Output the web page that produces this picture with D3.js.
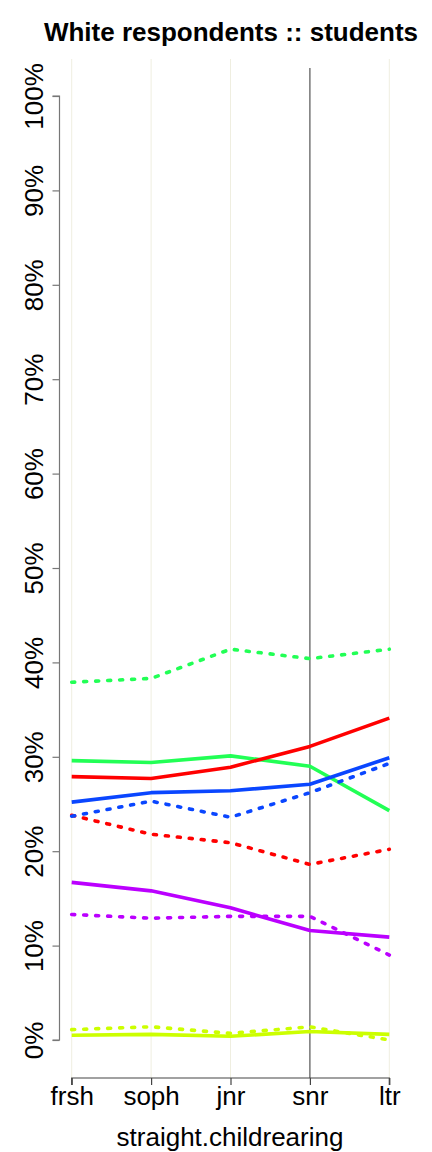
<!DOCTYPE html>
<html>
<head>
<meta charset="utf-8">
<script src="https://cdn.jsdelivr.net/npm/d3@7"></script>
<style>
  html, body { margin: 0; padding: 0; background: #fff; }
  svg { display: block; font-family: "Liberation Sans", Arial, Helvetica, sans-serif; }
</style>
</head>
<body>
<svg id="chart" width="432" height="1152"></svg>
<script>
// ---- data ----
const categories = ["frsh", "soph", "jnr", "snr", "ltr"];
const yTicks = [0, 10, 20, 30, 40, 50, 60, 70, 80, 90, 100];

const greenDashed  = [37.9, 38.3, 41.4, 40.4, 41.4];
const greenSolid   = [29.6, 29.4, 30.1, 29.0, 24.3];
const redSolid     = [27.9, 27.7, 28.9, 31.1, 34.1];
const blueSolid    = [25.2, 26.2, 26.4, 27.1, 29.9];
const blueDashed   = [23.7, 25.3, 23.6, 26.2, 29.3];
const redDashed    = [23.8, 21.8, 20.9, 18.6, 20.2];
const purpleSolid  = [16.7, 15.8, 14.0, 11.6, 10.9];
const purpleDashed = [13.3, 12.9, 13.1, 13.1, 9.0];
const yellowSolid  = [0.5, 0.6, 0.4, 0.9, 0.6];
const yellowDashed = [1.1, 1.4, 0.7, 1.4, 0.0];

const seriesList = [
  { values: greenDashed,  color: "#22ff55", dashed: true },
  { values: greenSolid,   color: "#22ff55", dashed: false },
  { values: redDashed,    color: "#ff0000", dashed: true },
  { values: redSolid,     color: "#ff0000", dashed: false },
  { values: blueDashed,   color: "#0a46ff", dashed: true },
  { values: blueSolid,    color: "#0a46ff", dashed: false },
  { values: purpleDashed, color: "#bb00ff", dashed: true },
  { values: purpleSolid,  color: "#bb00ff", dashed: false },
  { values: yellowDashed, color: "#ccff00", dashed: true },
  { values: yellowSolid,  color: "#ccff00", dashed: false }
];

// ---- layout ----
const svg = d3.select("#chart");
const x = d3.scalePoint().domain(categories).range([71.7, 389.3]);
const y = d3.scaleLinear().domain([0, 100]).range([1040, 96]);
const plotTop = 59, plotBottom = 1078;

// title
svg.append("text")
  .attr("x", 231).attr("y", 41)
  .attr("text-anchor", "middle")
  .attr("font-size", 26).attr("font-weight", "bold")
  .text("White respondents :: students");

// vertical grid lines
svg.append("g").selectAll("line")
  .data(categories)
  .join("line")
  .attr("x1", d => x(d)).attr("x2", d => x(d))
  .attr("y1", d => d === "snr" ? 68 : plotTop)
  .attr("y2", plotBottom)
  .attr("stroke", d => d === "snr" ? "#555555" : "#efeee0")
  .attr("stroke-width", d => d === "snr" ? 1.2 : 1);

// y axis
const yAxis = d3.axisLeft(y)
  .tickValues(yTicks)
  .tickFormat(d => d + "%")
  .tickSize(7)
  .tickPadding(0);
const gy = svg.append("g").attr("transform", "translate(59.5,0)").call(yAxis);
gy.select(".domain").attr("stroke", "#777").attr("stroke-width", 1.2)
  .attr("d", `M-7,${y(100)}H0V${y(0)}H-7`);
gy.selectAll(".tick line").attr("stroke", "#777").attr("stroke-width", 1.2);
gy.selectAll(".tick text")
  .attr("font-size", 26)
  .attr("fill", "#000")
  .attr("text-anchor", "middle")
  .attr("dy", null)
  .attr("x", null)
  .attr("transform", "translate(-16.5,0) rotate(-90)");

// x axis
const xAxis = d3.axisBottom(x).tickSize(7).tickPadding(0);
const gx = svg.append("g").attr("transform", `translate(0,${plotBottom})`).call(xAxis);
gx.select(".domain").attr("stroke", "#444").attr("stroke-width", 1.2)
  .attr("d", `M${x("frsh")},7V0H${x("ltr")}V7`);
gx.selectAll(".tick line").attr("stroke", "#444").attr("stroke-width", 1.2);
gx.selectAll(".tick text")
  .attr("font-size", 26).attr("fill", "#000")
  .attr("dy", null).attr("y", 27);

// x axis title
svg.append("text")
  .attr("x", 230).attr("y", 1146)
  .attr("text-anchor", "middle")
  .attr("font-size", 26)
  .text("straight.childrearing");

// lines
const line = d3.line()
  .x((d, i) => x(categories[i]))
  .y(d => y(d));

svg.append("g").selectAll("path")
  .data(seriesList)
  .join("path")
  .attr("d", d => line(d.values))
  .attr("fill", "none")
  .attr("stroke", d => d.color)
  .attr("stroke-width", 3.6)
  .attr("stroke-linecap", d => d.dashed ? "round" : "butt")
  .attr("stroke-linejoin", "round")
  .attr("stroke-dasharray", d => d.dashed ? "3 9" : null);
</script>
</body>
</html>
